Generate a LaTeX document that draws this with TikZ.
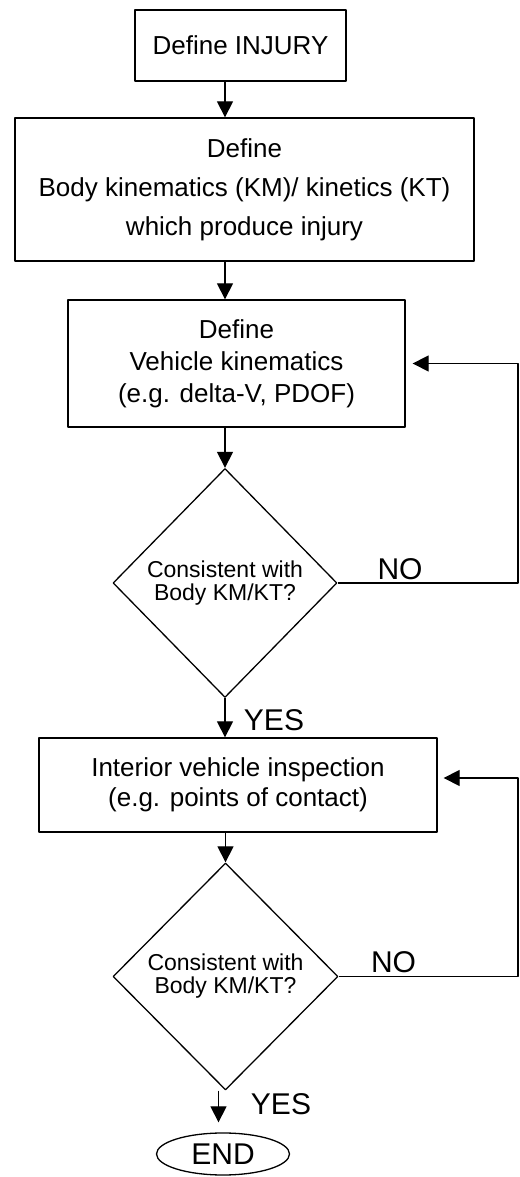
\documentclass[tikz,border=0pt]{standalone}
\usepackage{fontspec}
\setmainfont{Liberation Sans}
\usetikzlibrary{shapes.geometric,arrows.meta}
\begin{document}
\begin{tikzpicture}[>={Triangle[length=16bp,width=16bp]},line join=bevel,
  stepbox/.style={draw,rectangle,inner sep=0pt,align=center,font=\fontsize{26bp}{32bp}\selectfont},
  checkbox/.style={draw,diamond,inner sep=0pt,align=center,font=\fontsize{23bp}{23bp}\selectfont},
  answer/.style={inner sep=0pt,font=\fontsize{30bp}{30bp}\selectfont}]
  \pgfsetlinewidth{1.3bp}
  \useasboundingbox (0bp,0bp) rectangle (520bp,1177bp);
%%
  % Node: injury
  \node [stepbox,minimum width=211bp,minimum height=71bp] (injury) at (240.5bp,1131.5bp) {Define INJURY};
  % Node: bodykm
  \node [stepbox,minimum width=459bp,minimum height=143bp,font=\fontsize{26bp}{39bp}\selectfont] (bodykm) at (244.5bp,987.5bp)
    {Define\\Body kinematics (KM)/ kinetics (KT)\\which produce injury};
  % Node: vehkm
  \node [stepbox,minimum width=337bp,minimum height=127bp] (vehkm) at (236.5bp,813.5bp)
    {Define\\Vehicle kinematics\\(e.g. delta-V, PDOF)};
  % Node: check1
  \node [checkbox,minimum width=224bp,minimum height=229bp] (check1) at (225bp,594bp) {Consistent with\\Body KM/KT?};
  % Node: interior
  \node [stepbox,minimum width=398bp,minimum height=94bp,font=\fontsize{26bp}{30bp}\selectfont] (interior) at (238bp,392bp)
    {Interior vehicle inspection\\(e.g. points of contact)};
  % Node: check2
  \node [checkbox,minimum width=225bp,minimum height=227bp] (check2) at (225.5bp,200.5bp) {Consistent with\\Body KM/KT?};
  % Node: endnode
  \node [draw,ellipse,inner sep=0pt,minimum width=133bp,minimum height=42bp,font=\fontsize{30bp}{30bp}\selectfont] (endnode) at (223bp,23bp) {END};
  % Node: answers
  \node [answer] (no1) at (400bp,608bp) {NO};
  \node [answer] (yes1) at (274bp,457bp) {YES};
  \node [answer] (no2) at (393.5bp,215bp) {NO};
  \node [answer] (yes2) at (281bp,73bp) {YES};
  \coordinate (loop1) at (518bp,600bp);
  \coordinate (loop2) at (518bp,300bp);
  % Edge: injury -> bodykm
  \draw [->] (injury.south -| check1) -- (bodykm.north -| check1);
  % Edge: bodykm -> vehkm
  \draw [->] (bodykm.south -| check1) -- (vehkm.north -| check1);
  % Edge: vehkm -> check1
  \draw [->] (vehkm.south -| check1) -- (check1.north);
  % Edge: check1 -> interior
  \draw [->] (check1.south) -- (interior.north -| check1);
  % Edge: check1 -> vehkm
  \draw [->] (check1.east) -- (check1.east -| loop1) |- ([xshift=7bp]vehkm.east);
  % Edge: interior -> check2
  \draw [->] (interior.south -| check2) -- (check2.north);
  % Edge: check2 -> interior
  \draw [->] (check2.east) -- (check2.east -| loop2) |- ([xshift=6bp,yshift=7bp]interior.east);
  % Edge: check2 -> endnode
  \draw [->,shorten >=10bp] ([xshift=-7bp]check2.south) -- ([xshift=-7bp]check2.south |- endnode.north);
%
\end{tikzpicture}
\end{document}
